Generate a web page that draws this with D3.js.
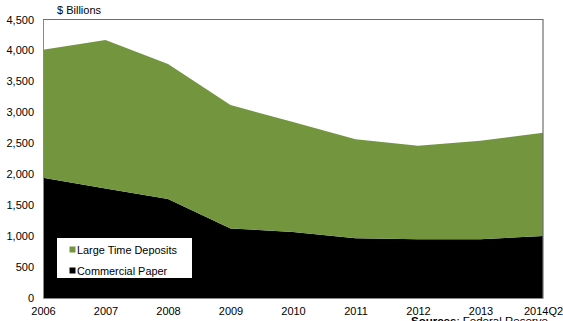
<!DOCTYPE html>
<html>
<head>
<meta charset="utf-8">
<script src="https://cdn.jsdelivr.net/npm/d3@7"></script>
<style>
  html, body { margin: 0; padding: 0; background: #fff; overflow: hidden; }
  svg { display: block; font-family: "Liberation Sans", Arial, sans-serif; }
</style>
</head>
<body>
<svg id="chart" width="563" height="321"></svg>
<script>
// Funding sources, $ billions
const periods = ["2006", "2007", "2008", "2009", "2010", "2011", "2012", "2013", "2014Q2"];
const commercialPaper = [1945, 1770, 1600, 1125, 1068, 965, 950, 950, 1002];
const largeTimeDeposits = [2065, 2400, 2180, 1993, 1775, 1600, 1512, 1590, 1670];
const yTicks = [0, 500, 1000, 1500, 2000, 2500, 3000, 3500, 4000, 4500];

const svg = d3.select("#chart");
const margin = { left: 43, right: 20, top: 19.5, bottom: 23 };
const W = 563, H = 321;
const x = d3.scalePoint().domain(periods).range([margin.left, W - margin.right]);
const y = d3.scaleLinear().domain([0, 4500]).range([H - margin.bottom, margin.top]);

const rows = periods.map((p, i) => ({ period: p, cp: commercialPaper[i], ltd: largeTimeDeposits[i] }));
const stacked = d3.stack().keys(["cp", "ltd"])(rows);
const colors = { cp: "#000000", ltd: "#72953e" };

const area = d3.area()
  .x(d => x(d.data.period))
  .y0(d => y(d[0]))
  .y1(d => y(d[1]));

svg.append("g").selectAll("path")
  .data(stacked)
  .join("path")
  .attr("d", area)
  .attr("fill", d => colors[d.key]);

// plot frame
svg.append("path")
  .attr("d", `M${x(periods[0])},${y(4500)}H${x(periods[periods.length - 1])}V${y(0)}`)
  .attr("fill", "none").attr("stroke", "#6e6e6e").attr("stroke-width", 1.2);

// y axis
const yAxis = svg.append("g")
  .attr("transform", `translate(${margin.left},0)`)
  .call(d3.axisLeft(y).tickValues(yTicks).tickSize(0).tickPadding(9).tickFormat(d3.format(",")));
yAxis.select(".domain").attr("stroke", "#8a8a8a").attr("stroke-width", 1);
yAxis.selectAll("text").attr("font-size", 11).attr("fill", "#000").attr("font-family", "Liberation Sans, Arial, sans-serif");

// x axis
const xAxis = svg.append("g")
  .attr("transform", `translate(0,${y(0)})`)
  .call(d3.axisBottom(x).tickSize(0).tickPadding(9));
xAxis.select(".domain").attr("stroke", "#8a8a8a").attr("stroke-width", 1);
xAxis.selectAll("text").attr("font-size", 11).attr("fill", "#000").attr("font-family", "Liberation Sans, Arial, sans-serif");

// unit label
svg.append("text")
  .attr("x", 57).attr("y", 14)
  .attr("font-size", 11).attr("fill", "#000")
  .text("$ Billions");

// legend
const legend = svg.append("g");
legend.append("rect")
  .attr("x", 57).attr("y", 238).attr("width", 135).attr("height", 40)
  .attr("fill", "#fff");
const legendItems = [
  { label: "Large Time Deposits", key: "ltd" },
  { label: "Commercial Paper", key: "cp" }
];
legendItems.forEach((item, i) => {
  const cy = 249.5 + i * 21;
  legend.append("rect")
    .attr("x", 69.5).attr("y", cy - 3).attr("width", 6).attr("height", 6)
    .attr("fill", colors[item.key]);
  legend.append("text")
    .attr("x", 77).attr("y", cy + 4)
    .attr("font-size", 10.9).attr("fill", "#000")
    .text(item.label);
});

// source note
const src = svg.append("text")
  .attr("x", 411).attr("y", 325)
  .attr("font-size", 11.5).attr("fill", "#000");
src.append("tspan").attr("font-weight", "bold").text("Sources");
src.append("tspan").text(": Federal Reserve");
</script>
</body>
</html>
